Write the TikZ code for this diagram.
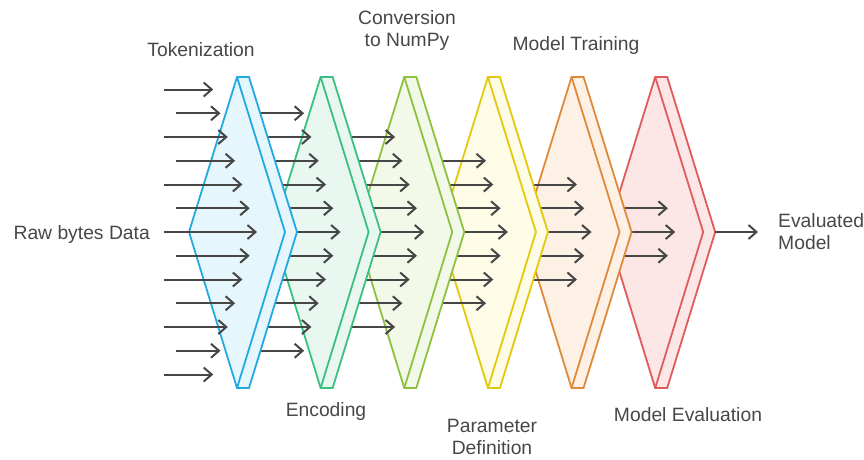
\documentclass[tikz,border=0pt]{standalone}
\usepackage{fontspec}
\setmainfont{Liberation Sans}
\usetikzlibrary{arrows.meta}

% stage colours: outline / fill
\definecolor{blueS}{HTML}{22AAE0}
\definecolor{blueF}{HTML}{E5F6FD}
\definecolor{greenS}{HTML}{3CC081}
\definecolor{greenF}{HTML}{E8F8F0}
\definecolor{limeS}{HTML}{8DC23F}
\definecolor{limeF}{HTML}{F3F9E8}
\definecolor{yellowS}{HTML}{E3C90E}
\definecolor{yellowF}{HTML}{FEFCE6}
\definecolor{orangeS}{HTML}{DF8A3A}
\definecolor{orangeF}{HTML}{FDF0E4}
\definecolor{redS}{HTML}{DF5C5C}
\definecolor{redF}{HTML}{FDE6E6}
\definecolor{ink}{HTML}{464646}
\definecolor{labelgrey}{HTML}{474747}

\begin{document}
\begin{tikzpicture}[x=1pt,y=-1pt,
  stage/.style={line width=1.8pt, line join=miter},
  flow/.style={draw=ink, line width=2pt,
    -{Straight Barb[length=8pt,width=14pt]}},
  lbl/.style={inner sep=0pt, text=labelgrey, align=center,
    font=\fontsize{19.3}{21.7}\selectfont}]
\useasboundingbox (0,0) rectangle (864,459);

% stages drawn back to front, each followed by the arrows entering it
\foreach \i/\sc/\fc in {5/redS/redF, 4/orangeS/orangeF, 3/yellowS/yellowF,
                        2/limeS/limeF, 1/greenS/greenF, 0/blueS/blueF} {
  \pgfmathsetmacro\T{237+83.64*\i}
  \pgfmathtruncatemacro\n{6-\i}
  \filldraw[stage, draw=\sc, fill=\fc]
    (\T-48,232) -- (\T,77) -- (\T+12,77) -- (\T+60,232)
    -- (\T+12,388) -- (\T,388) -- cycle;
  \draw[stage, draw=\sc] (\T,77) -- (\T+48,232) -- (\T,388);
  \foreach \k in {-\n,...,\n} {
    \pgfmathsetmacro\y{232+23.75*\k}
    \pgfmathsetmacro\e{\T+20-7.3*abs(\k)}
    \ifnum\i=0
      \pgfmathsetmacro\s{mod(abs(\k),2)==1 ? 176 : 164}
    \else
      \pgfmathsetmacro\s{\T-83.64}
    \fi
    \draw[flow] (\s,\y) -- (\e,\y);
  }
}

% output of the last stage
\coordinate (outS) at (715.2,232);
\node[lbl, anchor=west, align=left] (out) at (778,231.5) {Evaluated\\Model};
\draw[flow] (outS) -- (758,232);

% labels
\node[lbl, anchor=base east] (raw) at (150,239.3) {Raw bytes Data};
\node[lbl, anchor=base] (tok) at (201,56) {Tokenization};
\node[lbl] (conv) at (407,30.5) {Conversion\\to NumPy};
\node[lbl, anchor=base] (train) at (576,50) {Model Training};
\node[lbl, anchor=base] (enc) at (326,416.7) {Encoding};
\node[lbl] (param) at (492,436.7) {Parameter\\Definition};
\node[lbl, anchor=base] (eval) at (688,421.7) {Model Evaluation};
\end{tikzpicture}
\end{document}
